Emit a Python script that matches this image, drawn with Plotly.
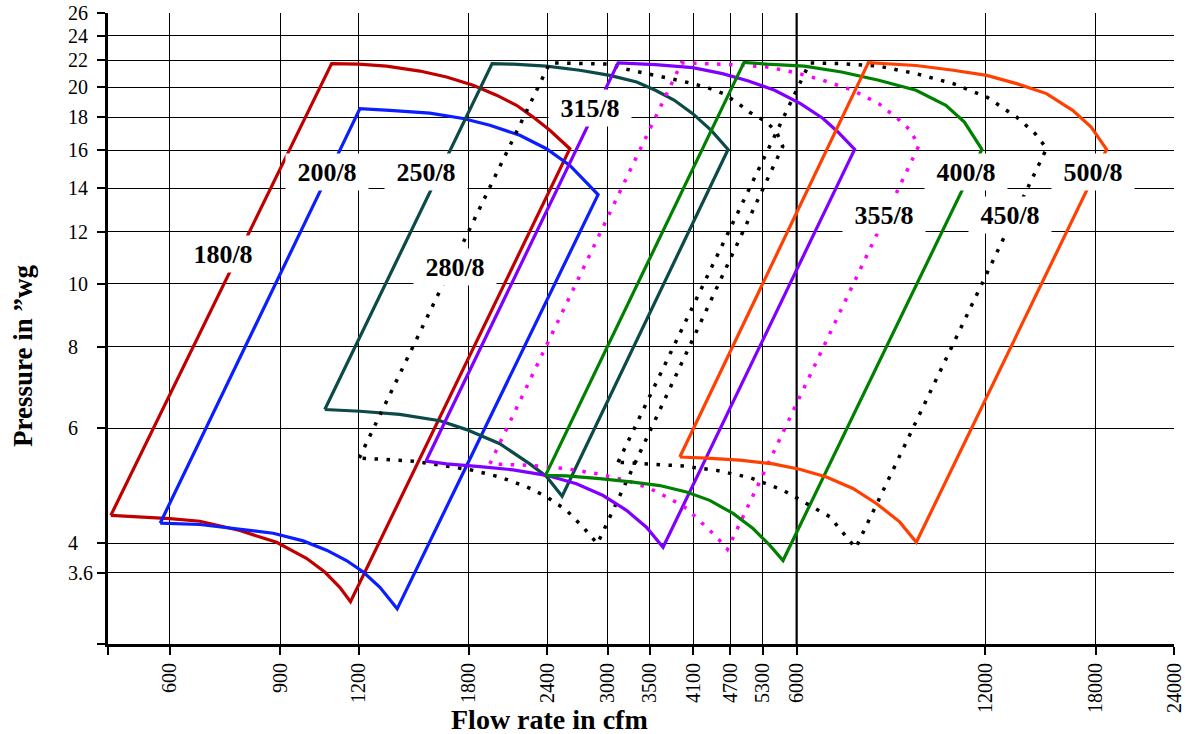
import math
import plotly.graph_objects as go

# ---------------- axes ----------------
x_min, x_max = 478, 24000
y_min, y_max = 2.8, 26
x_tick_values = [600, 900, 1200, 1800, 2400, 3000, 3500, 4100, 4700, 5300, 6000, 12000, 18000, 24000]
y_tick_values = [3.6, 4, 6, 8, 10, 12, 14, 16, 18, 20, 22, 24, 26]
y_tick_labels = ["3.6", "4", "6", "8", "10", "12", "14", "16", "18", "20", "22", "24", "26"]

# ---------------- fan outlines (cfm, "wg) ----------------
# each outline: left limit up, top (max speed) curve, right limit down, bottom (min speed) curve back
flow_180 = [483, 1087, 1201, 1330, 1503, 1658, 1828, 1992, 2144, 2279, 2423, 2608,
            1165, 1120, 1060, 991, 888, 776, 670, 600, 483]
pres_180 = [4.41, 21.75, 21.7, 21.55, 21.18, 20.74, 20.14, 19.45, 18.77, 18.0, 17.18, 16.1,
            3.25, 3.42, 3.61, 3.79, 4.01, 4.18, 4.32, 4.36, 4.41]

flow_200 = [579, 1206, 1346, 1559, 1762, 1944, 2170, 2393, 2608, 2893,
            1383, 1298, 1221, 1148, 1067, 979, 877, 757, 670, 579]
pres_200 = [4.29, 18.55, 18.44, 18.26, 17.91, 17.49, 16.88, 16.1, 15.18, 13.69,
            3.17, 3.42, 3.61, 3.76, 3.90, 4.03, 4.14, 4.21, 4.27, 4.29]

flow_250 = [1060, 1960, 2117, 2393, 2705, 3020, 3334, 3571, 3824, 4096, 4384, 4664,
            2535, 2393, 2251, 2016, 1784, 1618, 1396, 1206, 1060]
pres_250 = [6.41, 21.75, 21.7, 21.55, 21.24, 20.86, 20.38, 19.79, 19.12, 18.22, 17.18, 16.06,
            4.72, 5.06, 5.29, 5.68, 5.97, 6.16, 6.30, 6.37, 6.41]

flow_280 = [1203, 2423, 2705, 3020, 3168, 3459, 3723, 4008, 4313, 4574, 4815, 5049, 5376, 5576, 5701,
            2886, 2738, 2576, 2393, 2224, 2016, 1828, 1637, 1466, 1330, 1203]
pres_280 = [5.40, 21.8, 21.75, 21.7, 21.38, 21.0, 20.72, 20.36, 20.0, 19.58, 18.97, 18.31, 17.68, 17.06, 16.23,
            3.99, 4.23, 4.49, 4.71, 4.88, 5.05, 5.17, 5.26, 5.34, 5.37, 5.40]

flow_315 = [1537, 3114, 3571, 4096, 4569, 5027, 5534, 6086, 6611, 6982, 7425,
            3673, 3455, 3211, 2947, 2672, 2393, 2117, 1874, 1658, 1537]
pres_315 = [5.34, 21.8, 21.67, 21.44, 20.99, 20.45, 19.79, 18.88, 17.91, 17.08, 16.06,
            3.94, 4.23, 4.49, 4.73, 4.93, 5.08, 5.18, 5.24, 5.29, 5.34]

flow_355 = [1944, 3930, 4569, 5383, 6004, 6611, 7374, 8112, 8690, 9114, 9393,
            4654, 4469, 4255, 4003, 3764, 3498, 3211, 2911, 2576, 2279, 1944]
pres_355 = [5.29, 21.8, 21.7, 21.49, 21.04, 20.5, 19.79, 18.88, 17.91, 17.18, 16.25,
            3.91, 4.09, 4.28, 4.52, 4.68, 4.85, 4.99, 5.10, 5.20, 5.26, 5.29]

flow_400 = [2385, 4945, 5383, 6170, 7077, 8112, 9303, 10380, 11112, 11850,
            5707, 5434, 5111, 4750, 4360, 4003, 3628, 3289, 2911, 2576, 2385]
pres_400 = [5.08, 21.84, 21.7, 21.55, 21.11, 20.5, 19.79, 18.77, 17.69, 16.06,
            3.76, 3.97, 4.21, 4.44, 4.65, 4.79, 4.90, 4.96, 5.02, 5.07, 5.08]

flow_450 = [3113, 6294, 7077, 8112, 9303, 10666, 12065, 13464, 14412, 15030,
            7453, 7204, 6775, 6218, 5707, 5049, 4469, 3953, 3498, 3113]
pres_450 = [5.32, 21.8, 21.75, 21.55, 20.99, 20.26, 19.32, 18.0, 16.98, 16.12,
            3.93, 4.09, 4.39, 4.60, 4.82, 5.04, 5.17, 5.25, 5.29, 5.32]

flow_500 = [3906, 7809, 9303, 10666, 12065, 13464, 15025, 16539, 17704, 18733,
            9313, 8760, 8041, 7379, 6694, 6067, 5501, 4868, 4308, 3906]
pres_500 = [5.42, 21.82, 21.6, 21.24, 20.86, 20.26, 19.56, 18.44, 17.38, 16.06,
            4.01, 4.31, 4.60, 4.85, 5.05, 5.19, 5.29, 5.36, 5.40, 5.42]

fan_names = ["180/8", "200/8", "250/8", "280/8", "315/8", "355/8", "400/8", "450/8", "500/8"]
fan_flows = [flow_180, flow_200, flow_250, flow_280, flow_315, flow_355, flow_400, flow_450, flow_500]
fan_press = [pres_180, pres_200, pres_250, pres_280, pres_315, pres_355, pres_400, pres_450, pres_500]
fan_colors = ["#C00000", "#0A1EFF", "#0B4A48", "#000000", "#7F00FF", "#FF00FF", "#008000", "#000000", "#FF4000"]
fan_dotted = [False, False, False, True, False, True, False, True, False]

# label anchor points (cfm, "wg)
label_flow = [729, 1068, 1540, 1709, 2811, 8260, 11160, 13120, 17795]
label_pres = [11.11, 14.84, 14.84, 10.61, 18.6, 12.75, 14.84, 12.75, 14.84]

FONT = "Liberation Serif"

fig = go.Figure()

# emphasised grid line at 6000 cfm
fig.add_trace(go.Scatter(x=[6000, 6000], y=[y_min, y_max], mode="lines",
                         line=dict(color="black", width=2.2), hoverinfo="skip", showlegend=False))

for name, fx, py, col, dotted in zip(fan_names, fan_flows, fan_press, fan_colors, fan_dotted):
    line = dict(color=col, width=3.5 if dotted else 3.2)
    if dotted:
        line["dash"] = "3.5px,8.5px"
    fig.add_trace(go.Scatter(x=fx, y=py, mode="lines", name=name, line=line,
                             hoverinfo="name", showlegend=False))

for name, lx, ly in zip(fan_names, label_flow, label_pres):
    fig.add_annotation(x=math.log10(lx), y=math.log10(ly), xref="x", yref="y",
                       text="<b>%s</b>" % name, showarrow=False,
                       font=dict(family=FONT, size=26, color="black"),
                       bgcolor="white", width=82, height=36, borderpad=0,
                       xanchor="center", yanchor="middle")

# axis titles
fig.add_annotation(x=0.4146, y=-0.119, xref="paper", yref="paper", text="<b>Flow rate in cfm</b>",
                   showarrow=False, font=dict(family=FONT, size=28, color="black"),
                   xanchor="center", yanchor="middle")
fig.add_annotation(x=-0.0797, y=0.4564, xref="paper", yref="paper", text="<b>Pressure in \u201dwg</b>",
                   showarrow=False, textangle=-90, font=dict(family=FONT, size=27, color="black"),
                   xanchor="center", yanchor="middle")

# left-aligned look for y tick labels (pad with no-break spaces)
pad = {1: 3, 2: 1, 3: 0}
y_tick_text = [t + "\u00a0" * pad[len(t)] for t in y_tick_labels]

fig.update_xaxes(type="log", range=[math.log10(x_min), math.log10(x_max)],
                 tickmode="array", tickvals=[x_min] + x_tick_values,
                 ticktext=[""] + [str(v) for v in x_tick_values],
                 tickangle=-90, ticks="outside", ticklen=8, tickwidth=2, tickcolor="black",
                 showgrid=True, gridcolor="black", gridwidth=1, automargin=False,
                 showline=True, linecolor="black", linewidth=3, zeroline=False,
                 tickfont=dict(family=FONT, size=20, color="black"))
fig.update_yaxes(type="log", range=[math.log10(y_min), math.log10(y_max)],
                 tickmode="array", tickvals=[y_min] + y_tick_values,
                 ticktext=[""] + y_tick_text, automargin=False,
                 ticks="outside", ticklen=8, tickwidth=2, tickcolor="black",
                 showgrid=True, gridcolor="black", gridwidth=1,
                 showline=True, linecolor="black", linewidth=3, zeroline=False,
                 tickfont=dict(family=FONT, size=20, color="black"))

fig.update_layout(width=1185, height=734, margin=dict(l=108, r=11, t=13, b=90, autoexpand=False),
                  plot_bgcolor="white", paper_bgcolor="white", showlegend=False,
                  font=dict(family=FONT, color="black"))

fig.write_html("out.html", config={"displayModeBar": False},
               post_script="document.body.style.margin='0';")
